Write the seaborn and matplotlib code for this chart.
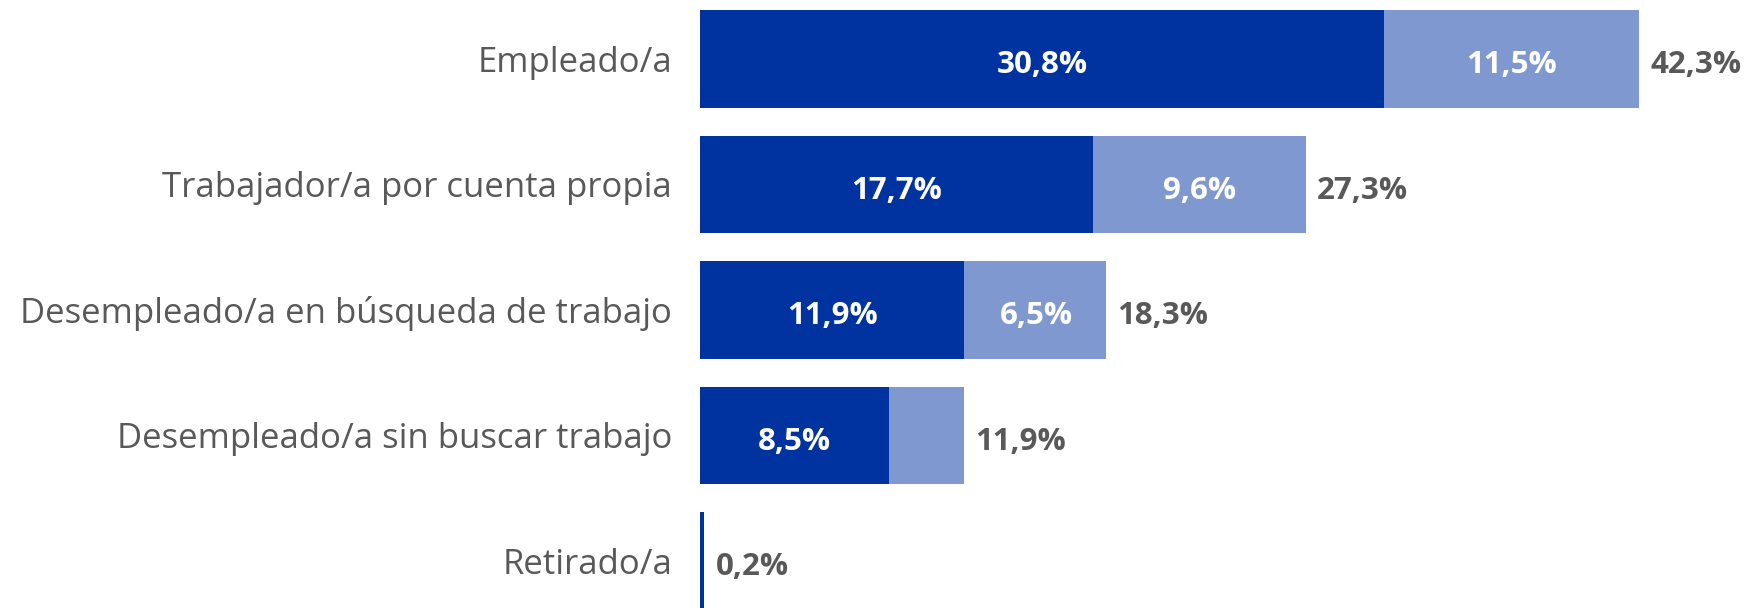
import pandas as pd
import seaborn as sns
import matplotlib.pyplot as plt

categories = ['Empleado/a', 'Trabajador/a por cuenta propia',
              'Desempleado/a en búsqueda de trabajo',
              'Desempleado/a sin buscar trabajo', 'Retirado/a']
dark_vals = [30.8, 17.7, 11.9, 8.5, 0.2]
light_vals = [11.5, 9.6, 6.5, 3.4, 0.0]
totals = [42.3, 27.3, 18.3, 11.9, 0.2]

dark_col = '#0033A0'
light_col = '#7F99D0'
grey = '#595959'

df = pd.DataFrame({'cat': categories, 'dark': dark_vals,
                   'light': light_vals, 'total': totals})

sns.set_theme(style='white')
plt.rcParams['font.family'] = ['Open Sans', 'DejaVu Sans']

fig = plt.figure(figsize=(17.49, 6.08), dpi=100)
ax = fig.add_axes([0.4002, 0, 0.5998, 1])

# totals in light colour, dark share drawn on top
sns.barplot(data=df, y='cat', x='total', color=light_col, width=0.78,
            saturation=1, linewidth=0, ax=ax)
sns.barplot(data=df, y='cat', x='dark', color=dark_col, width=0.78,
            saturation=1, linewidth=0, ax=ax)

dy = 0.05  # labels sit a touch below bar centre
for i, row in df.iterrows():
    if row['dark'] > 2:
        ax.text(row['dark'] / 2, i + dy, f"{row['dark']:.1f}%".replace('.', ','),
                ha='center', va='center', color='white', fontsize=22.5,
                fontweight='bold')
    if row['light'] > 4:
        ax.text(row['dark'] + row['light'] / 2, i + dy,
                f"{row['light']:.1f}%".replace('.', ','),
                ha='center', va='center', color='white', fontsize=22.5,
                fontweight='bold')
    ax.text(row['total'] + 0.5, i + dy, f"{row['total']:.1f}%".replace('.', ','),
            ha='left', va='center', color=grey, fontsize=22.5, fontweight='bold')

ax.set_xlim(0, 47.25)
ax.set_ylim(4.375, -0.47)
ax.set_xlabel('')
ax.set_ylabel('')
ax.set_xticks([])
ax.tick_params(axis='y', length=0, pad=20, labelsize=25, labelcolor=grey)
sns.despine(ax=ax, left=True, bottom=True)

plt.savefig('out.png', dpi=100)
